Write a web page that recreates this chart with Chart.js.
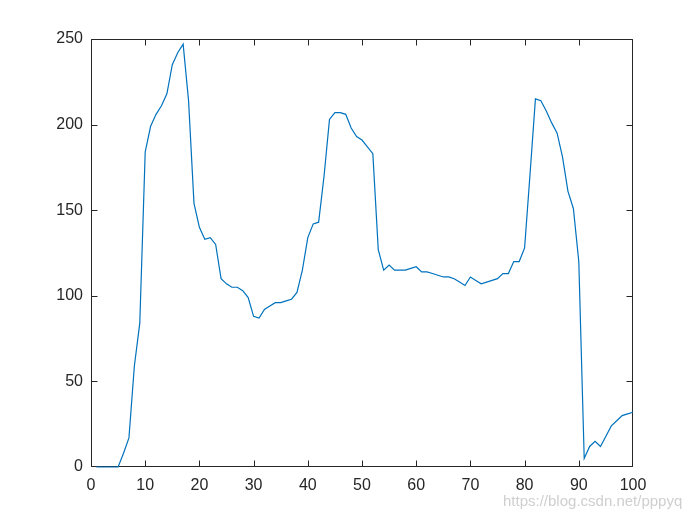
<!DOCTYPE html>
<html>
<head>
<meta charset="utf-8">
<script src="https://cdn.jsdelivr.net/npm/chart.js@4/dist/chart.umd.min.js"></script>
<style>
  html, body { margin:0; padding:0; background:#fff; }
  #wrap { position:relative; width:700px; height:525px; }
  #mark { position:absolute; left:503px; top:492px; font:15px "Liberation Sans", Arial, sans-serif; color:#cfcfcf; }
</style>
</head>
<body>
<div id="wrap">
  <canvas id="plot" width="700" height="525"></canvas>
  <div id="mark">https://blog.csdn.net/pppyq</div>
</div>
<script>
// sample index 1..100
const xs = Array.from({length: 100}, (_, i) => i + 1);
const values = [
  0, 0, 0, 0, 0, 8, 17, 59, 84, 184,
  199, 206, 211, 218, 235, 242, 247, 214, 154, 140,
  133, 134, 130, 110, 107, 105, 105, 103, 99, 88,
  87, 92, 94, 96, 96, 97, 98, 102, 115, 134,
  142, 143, 170, 203, 207, 207, 206, 198, 193, 191,
  187, 183, 127, 115, 118, 115, 115, 115, 116, 117,
  114, 114, 113, 112, 111, 111, 110, 108, 106, 111,
  109, 107, 108, 109, 110, 113, 113, 120, 120, 128,
  171, 215, 214, 208, 201, 195, 181, 161, 151, 120,
  5, 12, 15, 12, 18, 24, 27, 30, 31, 32
];
const xTicks = [0, 10, 20, 30, 40, 50, 60, 70, 80, 90, 100];
const yTicks = [0, 50, 100, 150, 200, 250];

const axisColor = '#262626';
const tickFont = { family: '"Liberation Sans", Arial, sans-serif', size: 16 };

// matlab-like box with inward ticks on all four sides (drawn under the line)
const boxAxes = {
  id: 'boxAxes',
  beforeDatasetsDraw(chart) {
    const { ctx, chartArea: a, scales: { x, y } } = chart;
    const L = Math.round(a.left) + 0.5, R = Math.round(a.right) - 0.5;
    const T = Math.round(a.top) + 0.5, B = Math.round(a.bottom) - 0.5;
    const clamp = (p, lo, hi) => Math.min(hi, Math.max(lo, p));
    const tl = 6;
    ctx.save();
    ctx.strokeStyle = axisColor;
    ctx.lineWidth = 1;
    ctx.beginPath();
    ctx.rect(L, T, R - L, B - T);
    xTicks.forEach(v => {
      const p = clamp(Math.round(x.getPixelForValue(v)) + 0.5, L, R);
      ctx.moveTo(p, B); ctx.lineTo(p, B - tl);
      ctx.moveTo(p, T); ctx.lineTo(p, T + tl);
    });
    yTicks.forEach(v => {
      const p = clamp(Math.round(y.getPixelForValue(v)) + 0.5, T, B);
      ctx.moveTo(L, p); ctx.lineTo(L + tl, p);
      ctx.moveTo(R, p); ctx.lineTo(R - tl, p);
    });
    ctx.stroke();
    ctx.restore();
  }
};

new Chart(document.getElementById('plot'), {
  type: 'line',
  data: {
    datasets: [{
      data: xs.map((x, i) => ({ x, y: values[i] })),
      borderColor: '#0072BD',
      borderWidth: 1.2,
      pointRadius: 0,
      tension: 0,
      fill: false,
      clip: false
    }]
  },
  options: {
    responsive: false,
    animation: false,
    layout: { padding: { left: 0, right: 67, top: 39, bottom: 0 } },
    plugins: { legend: { display: false }, tooltip: { enabled: false } },
    scales: {
      x: {
        type: 'linear', min: 0, max: 100,
        afterBuildTicks: s => { s.ticks = xTicks.map(v => ({ value: v })); },
        afterFit: s => { s.height = 58; },
        grid: { display: false, drawTicks: false },
        border: { display: false },
        ticks: { font: tickFont, color: axisColor, padding: 9, maxRotation: 0, autoSkip: false }
      },
      y: {
        min: 0, max: 250,
        afterBuildTicks: s => { s.ticks = yTicks.map(v => ({ value: v })); },
        afterFit: s => { s.width = 91; },
        grid: { display: false, drawTicks: false },
        border: { display: false },
        ticks: { font: tickFont, color: axisColor, padding: 8, autoSkip: false }
      }
    }
  },
  plugins: [boxAxes]
});
</script>
</body>
</html>
